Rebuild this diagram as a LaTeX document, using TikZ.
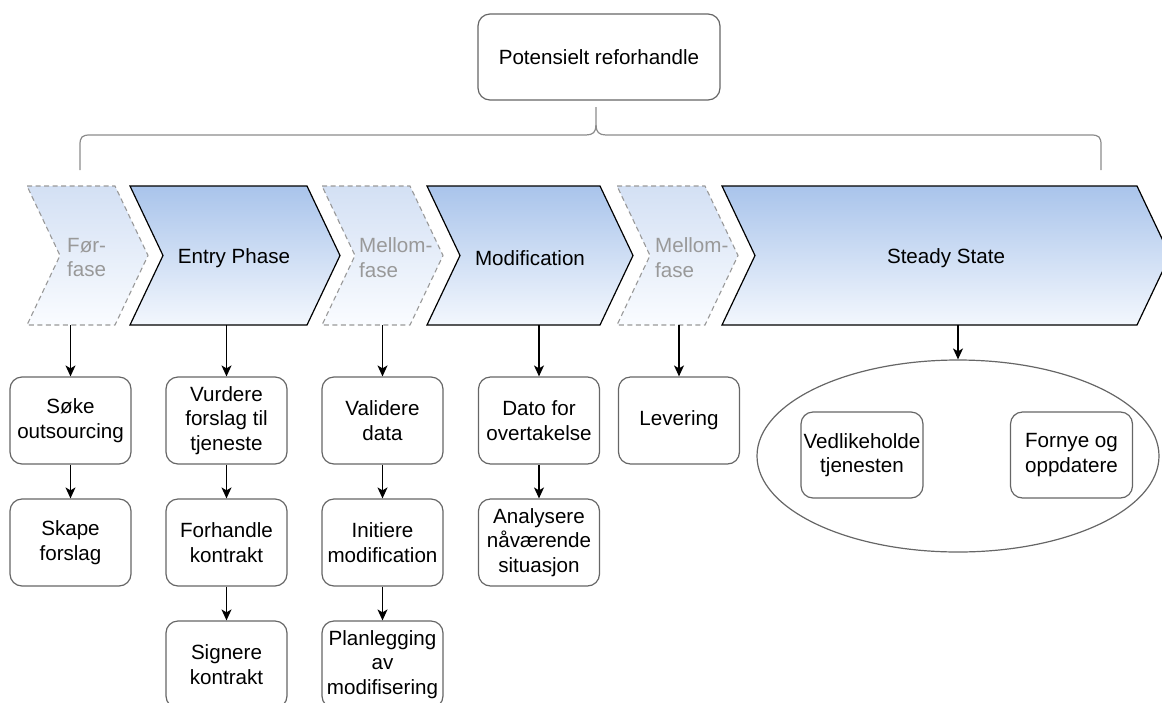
\documentclass[tikz,border=0pt]{standalone}
\usepackage{fontspec}
\setmainfont{Liberation Sans}
\usetikzlibrary{positioning, arrows.meta, shapes.geometric}

\definecolor{phasetop}{HTML}{A9C4EB}
\definecolor{phasebot}{HTML}{F3F7FD}
\definecolor{pretop}{HTML}{D3E0F4}
\definecolor{prebot}{HTML}{FAFCFF}
\definecolor{dashgray}{HTML}{999999}
\definecolor{boxgray}{HTML}{666666}
\definecolor{bracegray}{HTML}{8C8C8C}

\tikzset{
  phase/.style={draw=black, line width=1.2pt, top color=phasetop, bottom color=phasebot},
  prephase/.style={draw=dashgray, line width=1.1pt, dash pattern=on 5pt off 3.5pt,
    top color=pretop, bottom color=prebot},
  phasetxt/.style={minimum height=133pt, inner sep=0pt},
  pretxt/.style={minimum height=135pt, inner sep=0pt, anchor=west, align=left, text=dashgray},
  box/.style={draw=boxgray, line width=1.2pt, rounded corners=12pt, minimum width=121pt,
    minimum height=87pt, align=center, inner sep=1pt},
  brace/.style={draw=bracegray, line width=1.2pt},
  arr/.style={-{Stealth[length=11pt, width=10pt, inset=3pt]}, line width=1.3pt}
}

\begin{document}
\begin{tikzpicture}[x=1pt, y=-1pt, font=\fontsize{20.6pt}{24.5pt}\selectfont]
  \useasboundingbox (0,0) rectangle (1162,702);
  \clip (0,0) rectangle (1162,702);

  % top box and brace
  \node[box, minimum width=242pt, minimum height=86pt] (pot) at (599,57) {Potensielt reforhandle};
  \draw[brace] (80,170) -- (80,145) .. controls (80,137) and (82,135) .. (90,135) -- (586,135)
    .. controls (593,135) and (596,132) .. (596,125) -- (596,107);
  \draw[brace] (596,125) .. controls (596,132) and (599,135) .. (606,135) -- (1091,135)
    .. controls (1099,135) and (1101,137) .. (1101,145) -- (1101,170);

  % chevrons
  \foreach \l/\t/\sty in {27/148/prephase, 322/443/prephase, 617/738/prephase,
                          130/340/phase, 427/633/phase, 722/1170/phase}
    \draw[\sty] (\l,186) -- (\t-33,186) -- (\t,255.5) -- (\t-33,325) -- (\l,325)
      -- (\l+33,255.5) -- cycle;

  \node[pretxt] (pre) at (67,257.5) {Før-\\fase};
  \node[phasetxt] (entry) at (234,258.5) {Entry Phase};
  \node[pretxt] (mid1) at (359,257.5) {Mellom-\\fase};
  \node[phasetxt] (modif) at (530,258.5) {Modification};
  \node[pretxt] (mid2) at (655,257.5) {Mellom-\\fase};
  \node[phasetxt] (steady) at (946,258.5) {Steady State};

  % activities
  \node[box] (p1) at (70.5,420.5) {Søke\\outsourcing};
  \node[box] (p2) at (70.5,542.5) {Skape\\forslag};
  \node[box] (e1) at (226.5,420.5) {Vurdere\\forslag til\\tjeneste};
  \node[box] (e2) at (226.5,542.5) {Forhandle\\kontrakt};
  \node[box] (e3) at (226.5,664.5) {Signere\\kontrakt};
  \node[box] (m1) at (382.5,420.5) {Validere\\data};
  \node[box] (m2) at (382.5,542.5) {Initiere\\modification};
  \node[box] (m3) at (382.5,664.5) {Planlegging\\av\\modifisering};
  \node[box] (d1) at (539,420.5) {Dato for\\overtakelse};
  \node[box] (d2) at (539,542.5) {Analysere\\nåværende\\situasjon};
  \node[box] (lev) at (679,420.5) {Levering};
  \node[ellipse, draw=boxgray, line width=1.2pt, minimum width=402pt, minimum height=192pt]
    (ell) at (958,456) {};
  \node[box, minimum width=122pt, minimum height=86pt] (v1) at (862,455) {Vedlikeholde\\tjenesten};
  \node[box, minimum width=122pt, minimum height=86pt] (v2) at (1071.5,455) {Fornye og\\oppdatere};

  \path[arr]
    (p1.north |- pre.south) edge (p1)
    (e1.north |- entry.south) edge (e1)
    (m1.north |- mid1.south) edge (m1)
    (d1.north |- modif.south) edge (d1)
    (lev.north |- mid2.south) edge (lev)
    (ell.north |- steady.south) edge (ell)
    (p1) edge (p2)
    (e1) edge (e2) (e2) edge (e3)
    (m1) edge (m2) (m2) edge (m3)
    (d1) edge (d2);
\end{tikzpicture}
\end{document}
